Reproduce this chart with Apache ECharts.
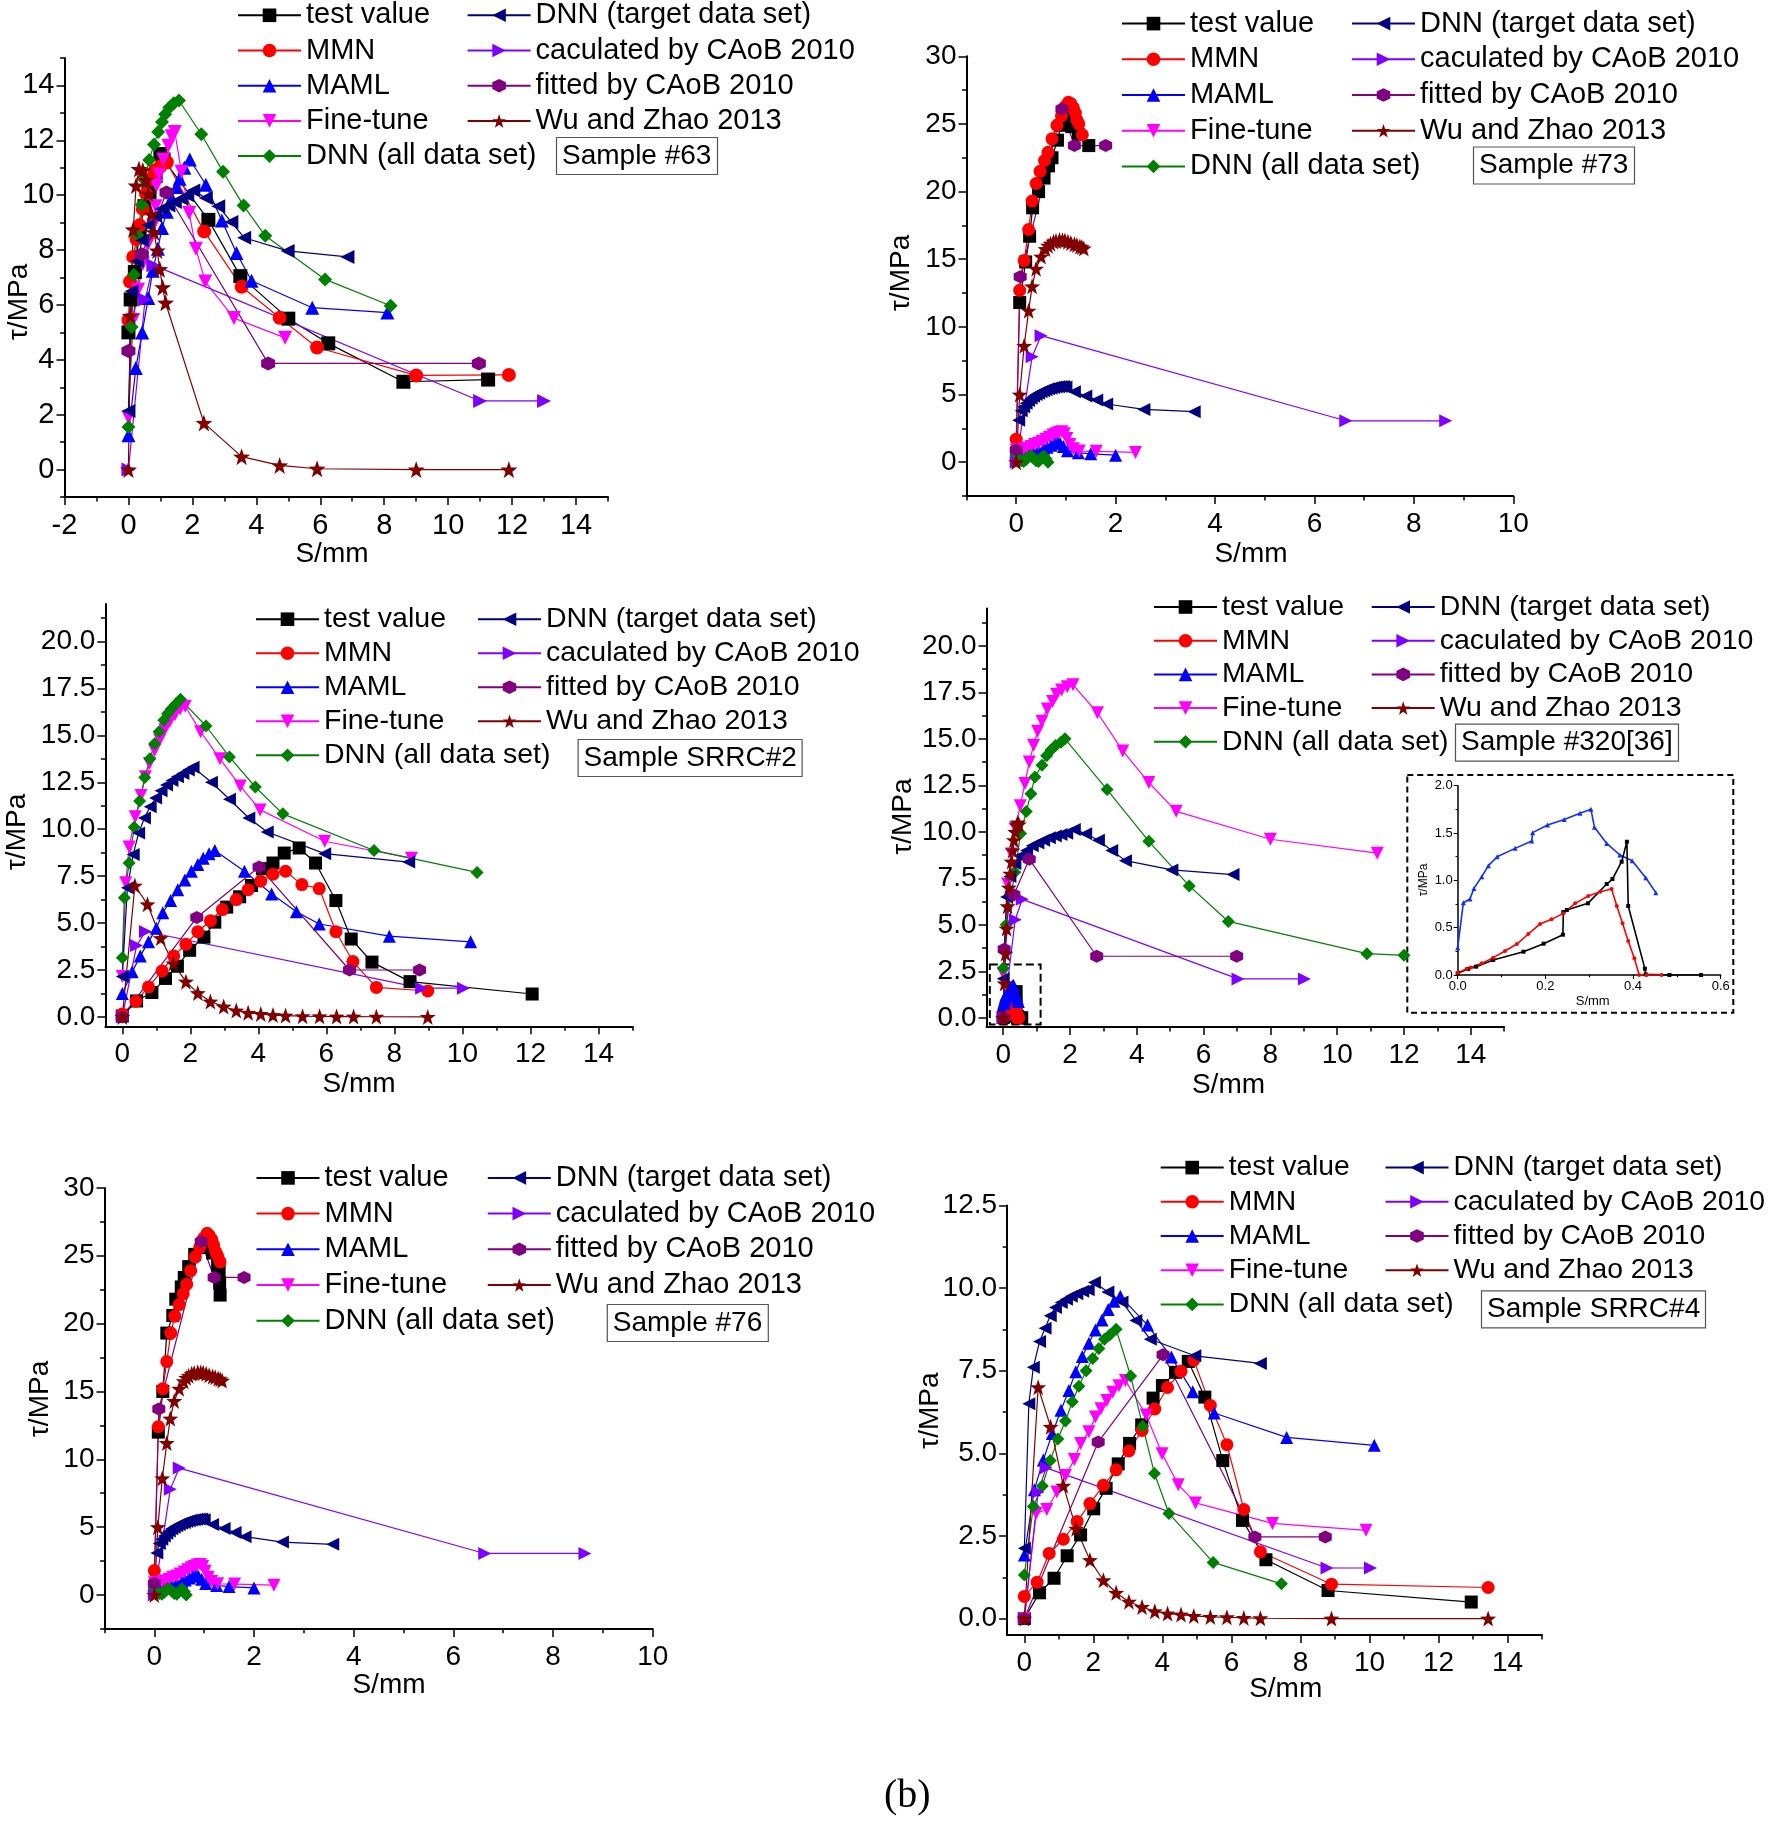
<!DOCTYPE html>
<html><head><meta charset="utf-8">
<script src="https://cdn.jsdelivr.net/npm/echarts@6/dist/echarts.min.js"></script>
<style>html,body{margin:0;padding:0;background:#fff}#c{width:1770px;height:1823px}</style>
</head><body><div id="c"></div>
<script>
// ---------------- names ----------------
const NAMES = ['test value','MMN','MAML','Fine-tune','DNN (all data set)','DNN (target data set)','caculated by CAoB 2010','fitted by CAoB 2010','Wu and Zhao 2013'];
const SAMPLES = ['Sample #63','Sample #73','Sample SRRC#2','Sample #320[36]','Sample #76','Sample SRRC#4'];

// ---------------- Sample #63 ----------------
const s63_test = [[0,5.0],[0.07,6.2],[0.2,7.2],[0.35,8.7],[0.5,9.6],[0.65,10.1],[0.85,10.7],[1.0,11.5],[1.1,11.3],[2.5,9.1],[3.5,7.05],[5.0,5.5],[6.25,4.6],[8.6,3.2],[11.25,3.28]];
const s63_mmn = [[0,5.45],[0.05,6.85],[0.15,7.75],[0.25,8.4],[0.35,8.9],[0.45,9.5],[0.55,10.05],[0.7,10.6],[0.83,10.9],[1.0,11.05],[1.2,11.2],[2.37,8.68],[3.54,6.66],[4.73,5.53],[5.9,4.45],[9.0,3.43],[11.9,3.45]];
const s63_maml = [[0,1.25],[0.23,3.7],[0.43,5.0],[0.62,6.25],[0.76,7.25],[0.92,8.05],[1.05,8.8],[1.2,9.4],[1.35,9.9],[1.5,10.3],[1.6,10.6],[1.75,11.0],[1.92,11.3],[2.42,10.38],[2.92,9.08],[3.38,7.89],[3.85,6.88],[5.75,5.9],[8.1,5.72]];
const s63_fine = [[0,1.9],[0.15,5.45],[0.3,6.55],[0.45,7.5],[0.6,8.2],[0.78,8.9],[0.85,9.6],[0.88,10.35],[0.96,10.75],[1.09,11.3],[1.25,11.8],[1.35,12.15],[1.45,12.3],[1.66,10.85],[1.9,9.35],[2.11,8.05],[2.4,6.85],[3.3,5.52],[4.9,4.8]];
const s63_dnnAll = [[0,1.55],[0.1,5.2],[0.17,7.1],[0.28,8.55],[0.42,9.65],[0.5,10.55],[0.65,11.28],[0.8,11.85],[0.93,12.3],[1.05,12.67],[1.15,12.95],[1.28,13.2],[1.42,13.35],[1.58,13.45],[2.28,12.22],[2.96,10.85],[3.6,9.62],[4.28,8.52],[6.15,6.93],[8.2,5.97]];
const s63_dnnTgt = [[0,2.13],[0.1,6.5],[0.27,7.6],[0.43,8.35],[0.62,8.9],[0.83,9.25],[1.04,9.5],[1.25,9.62],[1.45,9.75],[1.66,9.87],[1.84,10.0],[2.03,10.17],[2.42,9.9],[2.81,9.6],[3.22,9.02],[3.62,8.45],[4.98,7.97],[6.85,7.75]];
const s63_calc = [[0,0],[0.52,6.2],[0.78,7.45],[11.0,2.5],[13.0,2.5]];
const s63_fit = [[0,4.32],[0.42,7.85],[1.19,10.1],[4.37,3.87],[10.96,3.87]];
const s63_wu = [[0,0],[0.06,5.6],[0.15,8.75],[0.24,10.35],[0.33,10.95],[0.45,10.9],[0.55,10.55],[0.62,10.05],[0.72,9.3],[0.8,8.65],[0.9,7.98],[0.98,7.3],[1.07,6.64],[1.16,6.08],[2.36,1.7],[3.54,0.47],[4.73,0.15],[5.9,0.03],[9.0,0.0],[11.9,0.0]];

// ---------------- Sample #73 ----------------
const s73_test = [[0.07,11.8],[0.19,14.8],[0.27,16.7],[0.33,18.8],[0.45,20.0],[0.56,21.0],[0.65,21.9],[0.72,22.5],[0.83,23.8],[0.9,24.9],[0.97,25.5],[1.05,25.6],[1.12,24.8],[1.25,24.2],[1.46,23.4]];
const s73_mmn = [[0,1.7],[0.07,12.7],[0.16,14.9],[0.25,17.2],[0.32,19.3],[0.4,20.6],[0.48,21.5],[0.57,22.3],[0.64,22.9],[0.72,23.9],[0.82,24.9],[0.91,25.6],[0.99,26.3],[1.05,26.6],[1.1,26.5],[1.15,26.2],[1.19,25.8],[1.22,25.3],[1.26,25.0],[1.33,24.2]];
const s73_maml = [[0,1.0],[0.06,0.55],[0.15,0.6],[0.25,0.65],[0.35,0.75],[0.45,0.87],[0.55,1.0],[0.62,1.1],[0.7,1.25],[0.77,1.4],[0.82,1.55],[0.88,1.4],[0.95,1.15],[1.03,0.85],[1.25,0.7],[1.5,0.62],[2.0,0.52]];
const s73_fine = [[0,0.9],[0.07,0.9],[0.15,0.95],[0.22,1.05],[0.3,1.15],[0.37,1.3],[0.45,1.4],[0.52,1.55],[0.6,1.7],[0.67,1.85],[0.74,2.0],[0.8,2.1],[0.86,2.2],[0.92,2.25],[0.97,2.1],[1.02,1.75],[1.08,1.3],[1.15,1.0],[1.27,0.82],[1.61,0.8],[2.4,0.72]];
const s73_dnnAll = [[0,0.5],[0.05,0.3],[0.1,0.1],[0.15,0.05],[0.2,0.2],[0.25,0.4],[0.3,0.45],[0.35,0.3],[0.4,0.1],[0.45,0.05],[0.5,0.25],[0.55,0.45],[0.6,0.25],[0.64,0.0]];
const s73_dnnTgt = [[0.05,3.1],[0.1,3.8],[0.15,4.1],[0.2,4.35],[0.25,4.55],[0.3,4.72],[0.35,4.88],[0.4,5.0],[0.45,5.1],[0.5,5.2],[0.55,5.28],[0.6,5.35],[0.65,5.42],[0.7,5.47],[0.75,5.52],[0.8,5.55],[0.85,5.58],[0.9,5.6],[0.95,5.6],[1.0,5.55],[1.17,5.2],[1.4,4.9],[1.62,4.6],[1.82,4.3],[2.57,3.9],[3.58,3.73]];
const s73_calc = [[0,0],[0.32,7.8],[0.5,9.35],[6.63,3.06],[8.64,3.06]];
const s73_fit = [[0,0.9],[0.08,13.7],[0.92,26.1],[1.17,23.4],[1.8,23.4]];
const s73_wu = [[0,0],[0.07,5.0],[0.16,8.6],[0.25,11.2],[0.32,13.0],[0.4,14.3],[0.5,15.2],[0.59,15.75],[0.64,16.0],[0.69,16.15],[0.75,16.3],[0.8,16.35],[0.87,16.42],[0.93,16.4],[0.98,16.38],[1.04,16.3],[1.1,16.2],[1.17,16.1],[1.22,16.05],[1.28,15.95],[1.32,15.9],[1.36,15.8]];

// ---------------- Sample #76 ----------------
const s76_test = [[0.08,12.0],[0.17,15.0],[0.25,19.3],[0.37,20.6],[0.43,21.8],[0.54,22.7],[0.6,23.4],[0.69,24.2],[0.81,25.1],[0.95,25.6],[1.08,25.7],[1.17,25.2],[1.27,24.3],[1.3,23.9],[1.31,23.0],[1.32,22.1]];
const s76_mmn = [[0,1.8],[0.08,12.4],[0.17,15.2],[0.25,17.2],[0.33,19.3],[0.41,20.55],[0.5,21.4],[0.58,22.2],[0.65,22.9],[0.73,23.9],[0.82,24.9],[0.91,25.6],[0.99,26.3],[1.06,26.65],[1.1,26.5],[1.15,26.2],[1.19,25.8],[1.23,25.3],[1.27,25.0],[1.32,24.55]];
const s76_fit = [[0,0.87],[0.09,13.7],[0.94,26.05],[1.2,23.4],[1.8,23.4]];

// ---------------- Sample SRRC#2 ----------------
const s2_test = [[0,0.05],[0.42,0.85],[0.87,1.3],[1.27,2.05],[1.62,2.7],[1.98,3.55],[2.4,4.25],[2.72,5.05],[3.07,5.85],[3.45,6.4],[3.8,7.0],[4.12,7.9],[4.43,8.2],[4.76,8.73],[5.2,9.0],[5.68,8.2],[6.28,6.2],[6.73,4.15],[7.34,2.92],[8.46,1.88],[12.05,1.22]];
const s2_mmn = [[0,0.16],[0.4,0.83],[0.77,1.6],[1.17,2.45],[1.51,3.25],[1.87,3.87],[2.22,4.54],[2.59,5.12],[2.94,5.72],[3.35,6.25],[3.7,6.78],[4.07,7.23],[4.43,7.6],[4.8,7.76],[5.28,7.05],[5.79,6.84],[6.28,4.54],[6.78,2.95],[7.47,1.57],[8.98,1.38]];
const s2_maml = [[0,1.25],[0.29,2.4],[0.53,3.25],[0.77,4.0],[1.0,4.72],[1.19,5.55],[1.42,6.2],[1.63,6.78],[1.84,7.3],[2.03,7.76],[2.22,8.12],[2.38,8.45],[2.55,8.7],[2.72,8.87],[3.59,7.76],[4.39,6.55],[5.12,5.6],[5.79,4.95],[7.85,4.3],[10.24,4.0]];
const s2_fine = [[0,2.15],[0.1,7.15],[0.2,9.05],[0.38,10.67],[0.55,11.8],[0.68,12.8],[0.8,13.5],[0.95,14.2],[1.1,14.75],[1.25,15.3],[1.4,15.75],[1.55,16.1],[1.7,16.4],[1.85,16.55],[2.3,15.2],[2.87,13.75],[3.47,12.3],[4.05,11.03],[5.95,9.36],[8.5,8.46]];
const s2_dnnAll = [[0,3.15],[0.06,6.35],[0.2,8.2],[0.35,10.1],[0.51,11.5],[0.66,12.75],[0.81,13.75],[0.95,14.55],[1.08,15.2],[1.22,15.8],[1.33,16.15],[1.44,16.4],[1.56,16.65],[1.71,16.92],[2.46,15.5],[3.15,13.85],[3.91,12.25],[4.72,10.82],[7.4,8.87],[10.43,7.7]];
const s2_dnnTgt = [[0,2.15],[0.15,6.88],[0.32,8.66],[0.48,9.8],[0.65,10.6],[0.82,11.2],[0.98,11.66],[1.14,12.05],[1.3,12.35],[1.46,12.6],[1.62,12.8],[1.78,12.97],[1.94,13.15],[2.08,13.3],[2.62,12.5],[3.15,11.6],[3.72,10.6],[4.26,9.85],[5.95,8.7],[8.42,8.25]];
const s2_calc = [[0,0],[0.42,3.8],[0.68,4.55],[8.8,1.53],[10.03,1.53]];
const s2_fit = [[0,0],[2.19,5.3],[4.02,7.99],[6.68,2.5],[8.74,2.5]];
const s2_wu = [[0,0],[0.37,7.0],[0.74,6.0],[1.13,4.2],[1.5,2.85],[1.87,1.88],[2.22,1.27],[2.59,0.82],[2.98,0.55],[3.35,0.34],[3.7,0.22],[4.07,0.16],[4.43,0.1],[4.8,0.07],[5.3,0.04],[5.8,0.03],[6.3,0.02],[6.8,0.02],[7.47,0.01],[8.98,0.0]];

// ---------------- Sample #320[36] (main + inset) ----------------
const s320_test = [[0,0.018],[0.024,0.064],[0.042,0.088],[0.081,0.158],[0.15,0.246],[0.196,0.331],[0.24,0.426],[0.241,0.665],[0.249,0.687],[0.297,0.757],[0.34,0.961],[0.353,1.014],[0.374,1.197],[0.386,1.408],[0.389,0.729],[0.427,0.067],[0.429,0.007],[0.483,0],[0.555,0]];
const s320_mmn = [[0,0.025],[0.02,0.063],[0.03,0.08],[0.055,0.123],[0.081,0.183],[0.108,0.254],[0.135,0.327],[0.161,0.433],[0.188,0.539],[0.214,0.588],[0.241,0.651],[0.268,0.757],[0.298,0.835],[0.325,0.88],[0.351,0.908],[0.363,0.729],[0.376,0.546],[0.389,0.359],[0.403,0.176],[0.414,0],[0.431,0],[0.465,0]];
const s320_maml = [[0,0.289],[0.013,0.764],[0.028,0.803],[0.037,0.915],[0.055,1.039],[0.07,1.155],[0.09,1.25],[0.131,1.338],[0.169,1.415],[0.171,1.504],[0.205,1.585],[0.243,1.644],[0.279,1.708],[0.304,1.75],[0.312,1.56],[0.34,1.39],[0.37,1.268],[0.398,1.208],[0.429,1.028],[0.452,0.87]];
const s320_fine = [[0,2.38],[0.13,7.2],[0.25,8.8],[0.36,10.2],[0.51,11.4],[0.65,12.6],[0.78,13.75],[0.91,14.65],[1.03,15.4],[1.16,15.95],[1.32,16.6],[1.48,17.0],[1.6,17.4],[1.75,17.63],[1.92,17.8],[2.09,17.9],[2.82,16.4],[3.58,14.35],[4.36,12.65],[5.18,11.1],[8.0,9.6],[11.2,8.85]];
const s320_dnnAll = [[0,2.67],[0.09,5.0],[0.35,7.82],[0.52,9.91],[0.69,11.09],[0.83,12.05],[0.95,12.95],[1.16,13.58],[1.3,14.09],[1.43,14.4],[1.57,14.64],[1.73,14.82],[1.85,15.0],[3.11,12.27],[4.36,9.49],[5.57,7.09],[6.74,5.18],[10.89,3.45],[12.0,3.36]];
const s320_dnnTgt = [[0,2.1],[0.1,6.5],[0.2,7.6],[0.35,8.3],[0.5,8.7],[0.7,9.0],[0.87,9.25],[1.04,9.4],[1.21,9.55],[1.38,9.68],[1.56,9.78],[1.73,9.85],[1.9,9.92],[2.13,10.12],[2.47,9.9],[2.85,9.55],[3.25,9.0],[3.66,8.45],[5.05,7.95],[6.88,7.7]];
const s320_calc = [[0,0],[0.36,5.27],[0.57,6.37],[7.03,2.09],[9.02,2.09]];
const s320_fit = [[0,0],[0.03,3.68],[0.32,6.62],[0.78,8.53],[2.8,3.31],[6.99,3.31]];
const s320_wu = [[0,0],[0.04,1.85],[0.07,3.45],[0.1,4.8],[0.13,6.0],[0.17,7.0],[0.21,7.75],[0.25,8.4],[0.28,9.0],[0.32,9.55],[0.36,10.0],[0.4,10.35],[0.44,10.5],[0.47,10.4]];

// ---------------- Sample SRRC#4 ----------------
const s4_test = [[0,0],[0.44,0.78],[0.86,1.22],[1.24,1.9],[1.63,2.53],[2.01,3.32],[2.37,3.94],[2.72,4.68],[3.05,5.3],[3.4,5.86],[3.73,6.67],[4.0,7.05],[4.38,7.45],[4.75,7.78],[5.23,6.7],[5.75,4.78],[6.32,2.97],[7.0,1.78],[8.8,0.85],[12.95,0.5]];
const s4_mmn = [[0,0.67],[0.37,1.1],[0.72,1.97],[1.13,2.4],[1.53,2.94],[1.9,3.48],[2.29,4.03],[2.66,4.5],[3.03,5.07],[3.41,5.69],[3.78,6.34],[4.15,6.99],[4.54,7.48],[4.91,7.82],[5.39,6.45],[5.87,5.26],[6.36,3.3],[6.84,2.02],[8.9,1.04],[13.44,0.94]];
const s4_maml = [[0,1.92],[0.29,3.9],[0.55,4.8],[0.81,5.6],[1.06,6.3],[1.29,6.9],[1.49,7.47],[1.68,7.93],[1.87,8.33],[2.06,8.73],[2.25,9.03],[2.43,9.35],[2.6,9.6],[2.78,9.75],[3.57,8.88],[4.26,7.91],[4.88,6.86],[5.5,6.22],[7.6,5.48],[10.14,5.24]];
const s4_fine = [[0,0],[0.34,3.18],[0.65,3.3],[0.94,3.83],[1.19,4.33],[1.45,4.81],[1.63,5.3],[1.87,5.65],[2.06,6.1],[2.22,6.35],[2.39,6.6],[2.56,6.85],[2.74,7.04],[2.93,7.2],[3.53,6.16],[3.99,4.99],[4.46,4.05],[4.96,3.5],[7.19,2.88],[9.9,2.67]];
const s4_dnnAll = [[0,1.32],[0.26,3.39],[0.52,4.01],[0.75,4.78],[0.97,5.43],[1.19,5.98],[1.39,6.56],[1.58,7.03],[1.79,7.5],[1.98,7.87],[2.16,8.17],[2.32,8.45],[2.47,8.58],[2.66,8.75],[3.08,7.34],[3.43,5.82],[3.77,4.39],[4.19,3.18],[5.47,1.7],[7.45,1.05]];
const s4_dnnTgt = [[0,2.13],[0.13,6.5],[0.26,7.6],[0.44,8.38],[0.6,8.78],[0.75,9.16],[0.9,9.41],[1.07,9.56],[1.22,9.66],[1.36,9.75],[1.52,9.83],[1.69,9.9],[1.85,9.95],[2.03,10.17],[2.42,9.88],[2.83,9.58],[3.23,9.02],[3.65,8.45],[4.94,7.95],[6.84,7.72]];
const s4_calc = [[0,0],[0.4,3.83],[0.63,4.56],[8.77,1.53],[10.03,1.53]];
const s4_fit = [[0,0],[2.14,5.34],[4.02,7.98],[6.68,2.47],[8.72,2.47]];
const s4_wu = [[0,0],[0.4,7.0],[0.76,5.8],[1.13,4.02],[1.5,2.72],[1.9,1.77],[2.29,1.16],[2.66,0.78],[3.03,0.51],[3.41,0.35],[3.78,0.22],[4.15,0.15],[4.54,0.12],[4.91,0.08],[5.39,0.05],[5.87,0.04],[6.36,0.02],[6.84,0.01],[8.9,0],[13.44,0]];

// ---------------- tick values ----------------
const ticksX_a = [-2,0,2,4,6,8,10,12,14];          // Sample #63
const minorX_a = [-1,1,3,5,7,9,11,13,15];
const ticksY_a = [0,2,4,6,8,10,12,14];
const minorY_a = [-1,1,3,5,7,9,11,13,15];
const ticksX_b = [0,2,4,6,8,10];                   // #73, #76
const minorX_b = [-1,1,3,5,7,9];
const ticksY_b = [0,5,10,15,20,25,30];
const minorY_b = [-2.5,2.5,7.5,12.5,17.5,22.5,27.5];
const ticksX_c = [0,2,4,6,8,10,12,14];             // SRRC#2, #320, SRRC#4
const minorX_c = [1,3,5,7,9,11,13,15];
const ticksY_c = [0,2.5,5,7.5,10,12.5,15,17.5,20];
const minorY_c = [1.25,3.75,6.25,8.75,11.25,13.75,16.25,18.75,21.25];
const ticksY_d = [0,2.5,5,7.5,10,12.5];
const minorY_d = [1.25,3.75,6.25,8.75,11.25];
const ticksX_in = [0,0.2,0.4,0.6];                 // inset
const minorX_in = [0.1,0.3,0.5];
const ticksY_in = [0,0.5,1,1.5,2];
const minorY_in = [0.25,0.75,1.25,1.75];

// ---------------- styles / layout ----------------
const FONT = '"Liberation Sans", Arial, sans-serif';
const STAR = 'path://M10,0L12.35,6.76L19.51,6.91L13.8,11.24L15.88,18.09L10,14L4.12,18.09L6.2,11.24L0.49,6.91L7.65,6.76Z';
const STYLE = [
  {c:'#000000', s:'rect'},
  {c:'#FF0000', s:'circle'},
  {c:'#0000FF', s:'triangle'},
  {c:'#FF00FF', s:'path://M0,0L10,0L5,9Z'},
  {c:'#008000', s:'diamond'},
  {c:'#000080', s:'path://M0,5L9,0L9,10Z'},
  {c:'#8000FF', s:'path://M0,0L9,5L0,10Z'},
  {c:'#800080', s:'path://M5,0L10,2.9L10,8.7L5,11.6L0,8.7L0,2.9Z'},
  {c:'#800000', s:STAR}
];

const PANELS = [
  {grid:{left:64.5,top:58,width:543.5,height:439}, x:[-2,15], y:[-1,15], tx:ticksX_a, mx:minorX_a, ty:ticksY_a, my:minorY_a, dec:0,
   data:[s63_test,s63_mmn,s63_maml,s63_fine,s63_dnnAll,s63_dnnTgt,s63_calc,s63_fit,s63_wu], sym:14, fs:29, lf:29,
   leg:{l1:237,l2:466.6,top:0.8,gap:6.2}, box:[556,137], xn:[332,554], yn:[19,302]},
  {grid:{left:966.5,top:56.3,width:546.8,height:439.7}, x:[-1,10], y:[-2.5,30], tx:ticksX_b, mx:minorX_b, ty:ticksY_b, my:minorY_b, dec:0,
   data:[s73_test,s73_mmn,s73_maml,s73_fine,s73_dnnAll,s73_dnnTgt,s73_calc,s73_fit,s73_wu], sym:13, fs:28, lf:29,
   leg:{l1:1121,l2:1351,top:9.1,gap:6.7}, box:[1473,146.5], xn:[1251,554], yn:[901,273]},
  {grid:{left:105.3,top:604,width:527.2,height:422.3}, x:[-0.5,15], y:[-0.5,22], tx:ticksX_c, mx:minorX_c, ty:ticksY_c, my:minorY_c, dec:1,
   data:[s2_test,s2_mmn,s2_maml,s2_fine,s2_dnnAll,s2_dnnTgt,s2_calc,s2_fit,s2_wu], sym:13, fs:28, lf:28.5,
   leg:{l1:255,l2:477,top:604.7,gap:5}, box:[577.6,739], xn:[359,1084], yn:[17,832]},
  {grid:{left:986.5,top:608.6,width:517.7,height:418.5}, x:[-0.5,15], y:[-0.5,22], tx:ticksX_c, mx:minorX_c, ty:ticksY_c, my:minorY_c, dec:1,
   data:[s320_test,s320_mmn,s320_maml,s320_fine,s320_dnnAll,s320_dnnTgt,s320_calc,s320_fit,s320_wu], sym:13, fs:28, lf:28.5,
   leg:{l1:1153,l2:1370.7,top:592.5,gap:4.7}, box:[1455,723.7], xn:[1228.5,1085.4], yn:[903.5,816.6]},
  {grid:{left:104.5,top:1187.9,width:548.2,height:441}, x:[-1,10], y:[-2.5,30], tx:ticksX_b, mx:minorX_b, ty:ticksY_b, my:minorY_b, dec:0,
   data:[s76_test,s76_mmn,s73_maml,s73_fine,s73_dnnAll,s73_dnnTgt,s73_calc,s76_fit,s73_wu], sym:13, fs:28, lf:29,
   leg:{l1:255.5,l2:486.8,top:1163.4,gap:6.7}, box:[606.8,1304], xn:[389,1685], yn:[40,1399]},
  {grid:{left:1007.1,top:1205.4,width:534.9,height:429.7}, x:[-0.5,15], y:[-0.5,12.5], tx:ticksX_c, mx:minorX_c, ty:ticksY_d, my:minorY_d, dec:1,
   data:[s4_test,s4_mmn,s4_maml,s4_fine,s4_dnnAll,s4_dnnTgt,s4_calc,s4_fit,s4_wu], sym:13, fs:28, lf:28.3,
   leg:{l1:1159.7,l2:1384.5,top:1153.6,gap:6.2}, box:[1481,1290.4], xn:[1285.7,1689], yn:[930.5,1410.7]}
];
const INSET = {grid:{left:1457.7,top:785.7,width:263,height:189.3}, x:[0,0.6], y:[0,2]};

const option = {animation:false, backgroundColor:'#fff', textStyle:{fontFamily:FONT},
  grid:[], xAxis:[], yAxis:[], series:[], legend:[], title:[], graphic:[]};

function axes(kind, gi, min, max, maj, mnr, dec, fs, lw, tl, margin, z) {
  const pos = kind === 'x' ? 'bottom' : 'left';
  const major = {type:'value', gridIndex:gi, min, max, position:pos, z:z, splitLine:{show:false},
    axisLine:{show:true, onZero:false, lineStyle:{color:'#000', width:lw}},
    axisTick:{show:true, customValues:maj, inside:false, length:tl, lineStyle:{color:'#000', width:lw*0.75}},
    axisLabel:{show:true, customValues:maj, margin:margin, color:'#000', fontSize:fs, fontFamily:FONT,
      formatter: v => dec ? Number(v).toFixed(dec) : String(Math.round(v))}};
  const minor = {type:'value', gridIndex:gi, min, max, position:pos, offset:0, z:z, splitLine:{show:false},
    axisLine:{show:false, onZero:false},
    axisTick:{show:true, customValues:mnr, inside:false, length:tl*0.55, lineStyle:{color:'#000', width:lw*0.75}},
    axisLabel:{show:false}};
  return [major, minor];
}

function txt(x, y, text, fs, rot, family) {
  return {type:'text', x:x, y:y, rotation:rot||0, z:10,
    style:{text:text, fontSize:fs, fontFamily:family||FONT, fill:'#000',
      align:'center', verticalAlign:'middle', textAlign:'center', textVerticalAlign:'middle'}};
}

PANELS.forEach((p, gi) => {
  option.grid.push(Object.assign({containLabel:false}, p.grid));
  option.xAxis.push(...axes('x', gi, p.x[0], p.x[1], p.tx, p.mx, 0, p.fs, 2, 8, 14, 0));
  option.yAxis.push(...axes('y', gi, p.y[0], p.y[1], p.ty, p.my, p.dec, p.fs, 2, 8, 10, 0));
  p.data.forEach((d, k) => {
    const s = {type:'line', name:NAMES[k], xAxisIndex:2*gi, yAxisIndex:2*gi, data:d,
      symbol:STYLE[k].s, symbolSize: k === 8 ? p.sym + 3 : p.sym, showSymbol:true,
      itemStyle:{color:STYLE[k].c}, lineStyle:{color:STYLE[k].c, width:1.2}, emphasis:{disabled:true}};
    if (gi === 3 && k === 0) {
      s.markArea = {silent:true, label:{show:false},
        itemStyle:{color:'rgba(0,0,0,0)', borderColor:'#000', borderWidth:2, borderType:'dashed'},
        data:[[{coord:[-0.4,2.87]},{coord:[1.12,-0.36]}]]};
    }
    option.series.push(s);
  });
  const lg = {orient:'vertical', top:p.leg.top, itemGap:p.leg.gap, itemWidth:63, itemHeight:17, padding:0,
    selectedMode:false, textStyle:{fontSize:p.lf, color:'#000', fontFamily:FONT}};
  option.legend.push(Object.assign({left:p.leg.l1, data:NAMES.slice(0,5)}, lg));
  option.legend.push(Object.assign({left:p.leg.l2, data:NAMES.slice(5)}, lg));
  option.title.push({text:SAMPLES[gi], left:p.box[0], top:p.box[1], padding:[5,6], borderColor:'#555', borderWidth:1.2,
    textStyle:{fontSize:28, fontWeight:'normal', color:'#000', fontFamily:FONT}});
  option.graphic.push(txt(p.xn[0], p.xn[1], 'S/mm', 28, 0));
  option.graphic.push(txt(p.yn[0], p.yn[1], 'τ/MPa', 28, Math.PI/2));
});

// inset
const gi = 6;
option.grid.push(Object.assign({containLabel:false}, INSET.grid));
option.xAxis.push(...axes('x', gi, INSET.x[0], INSET.x[1], ticksX_in, minorX_in, 1, 13, 1.5, 4, 5, 20));
option.yAxis.push(...axes('y', gi, INSET.y[0], INSET.y[1], ticksY_in, minorY_in, 1, 13, 1.5, 4, 5, 20));
[[s320_maml,2,'#1030ff',5],[s320_test,0,'#000',4],[s320_mmn,1,'#ff0000',4]].forEach(([d,k,c,sz]) => {
  option.series.push({type:'line', name:'inset '+k, xAxisIndex:12, yAxisIndex:12, data:d, z:21,
    symbol:STYLE[k].s, symbolSize:sz, itemStyle:{color:c}, lineStyle:{color:c, width:1.6}, emphasis:{disabled:true}});
});
option.graphic.push({type:'rect', z:-1, shape:{x:1407.3, y:775, width:326, height:237.7},
  style:{fill:'rgba(255,255,255,0)', stroke:'#000', lineWidth:2, lineDash:[6,4]}});
option.graphic.push(txt(1592.7, 1001.7, 'S/mm', 13, 0));
option.graphic.push(txt(1423.3, 880, 'τ/MPa', 12, Math.PI/2));

option.title.push({text:'(b)', left:884, top:1776, padding:0,
  textStyle:{fontSize:40, fontWeight:'normal', color:'#000', fontFamily:'"Liberation Serif", "Times New Roman", serif'}});

const chart = echarts.init(document.getElementById('c'), null, {renderer:'canvas'});
chart.setOption(option);
</script></body></html>
